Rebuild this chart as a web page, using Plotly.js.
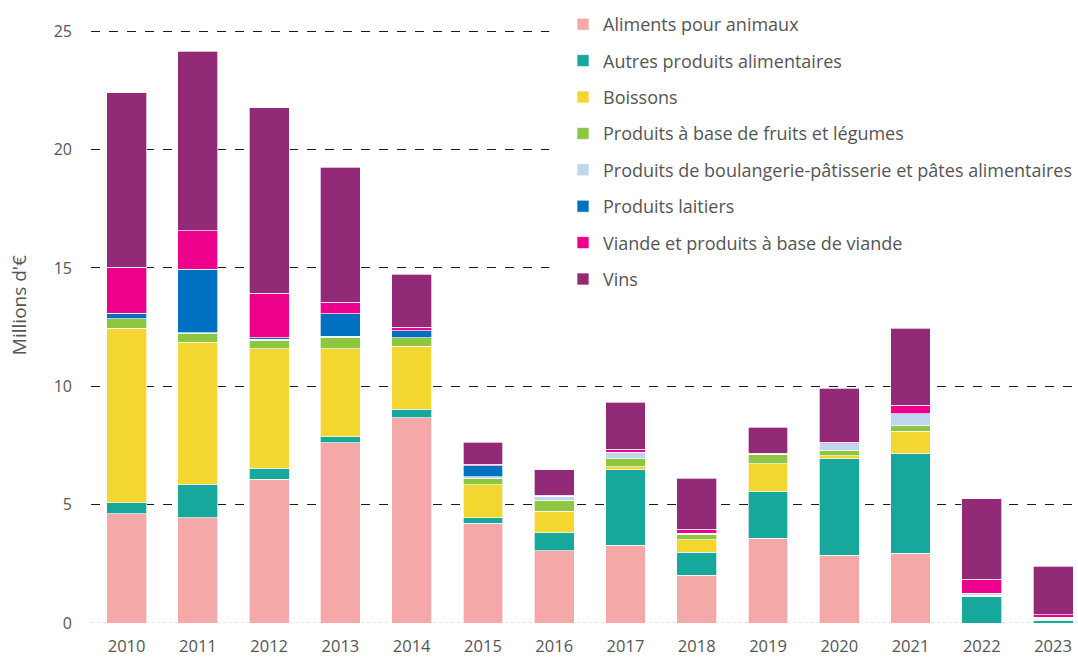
<!DOCTYPE html>
<html>
<head>
<meta charset="utf-8">
<script src="https://cdn.plot.ly/plotly-3.0.1.min.js"></script>
<style>
html,body{margin:0;padding:0;background:#fff;overflow:hidden;}
#chart{width:1078px;height:657px;}
</style>
</head>
<body>
<div id="chart"></div>
<script>
const years = ['2010','2011','2012','2013','2014','2015','2016','2017','2018','2019','2020','2021','2022','2023'];

const seriesNames = [
  'Aliments pour animaux',
  'Autres produits alimentaires',
  'Boissons',
  'Produits à base de fruits et légumes',
  'Produits de boulangerie-pâtisserie et pâtes alimentaires',
  'Produits laitiers',
  'Viande et produits à base de viande',
  'Vins'
];

const aliments     = [4.61, 4.44, 6.07, 7.62, 8.68, 4.21, 3.05, 3.29, 2.01, 3.57, 2.86, 2.94, 0.00, 0.00];
const autres       = [0.47, 1.42, 0.46, 0.25, 0.35, 0.23, 0.76, 3.18, 0.98, 1.99, 4.08, 4.23, 1.10, 0.12];
const boissons     = [7.38, 6.01, 5.05, 3.71, 2.67, 1.39, 0.92, 0.13, 0.52, 1.16, 0.13, 0.93, 0.02, 0.03];
const fruits       = [0.39, 0.35, 0.35, 0.48, 0.36, 0.29, 0.46, 0.34, 0.24, 0.39, 0.23, 0.24, 0.06, 0.05];
const boulangerie  = [0.00, 0.05, 0.05, 0.05, 0.00, 0.06, 0.16, 0.28, 0.05, 0.02, 0.27, 0.51, 0.08, 0.04];
const laitiers     = [0.24, 2.67, 0.08, 0.96, 0.28, 0.46, 0.00, 0.00, 0.00, 0.00, 0.00, 0.00, 0.00, 0.00];
const viande       = [1.93, 1.62, 1.87, 0.48, 0.16, 0.06, 0.05, 0.12, 0.17, 0.04, 0.07, 0.35, 0.58, 0.11];
const vins         = [7.39, 7.60, 7.84, 5.70, 2.23, 0.93, 1.07, 1.99, 2.15, 1.09, 2.27, 3.26, 3.41, 2.04];

const seriesValues = [aliments, autres, boissons, fruits, boulangerie, laitiers, viande, vins];
const colors = ['#F5A8A8', '#17A89D', '#F3D630', '#8DC63F', '#BDD7EE', '#0070C0', '#EC008C', '#922A78'];

const traces = seriesNames.map((name, i) => ({
  type: 'bar',
  name: name,
  x: years,
  y: seriesValues[i],
  legendgroup: 'g' + i,
  marker: {color: colors[i], line: {color: 'rgba(255,255,255,0.85)', width: 0.8}},
  hoverinfo: 'name+y'
}));

const layout = {
  width: 1078,
  height: 657,
  margin: {l: 91, r: 0, t: 30, b: 34, autoexpand: false},
  paper_bgcolor: '#ffffff',
  plot_bgcolor: '#ffffff',
  barmode: 'stack',
  bargap: 0.44,
  font: {family: 'Open Sans, sans-serif', color: '#555555', size: 16},
  xaxis: {
    type: 'category',
    range: [-0.5, 13.35],
    showgrid: false,
    zeroline: false,
    showline: false,
    ticks: '',
    tickfont: {size: 16.5, color: '#555555'},
    ticklabelstandoff: 11
  },
  yaxis: {
    range: [0, 25.05],
    tickvals: [0, 5, 10, 15, 20, 25],
    showgrid: true,
    gridcolor: '#1a1a1a',
    gridwidth: 1,
    griddash: 'dash',
    zeroline: false,
    showline: false,
    ticks: '',
    tickfont: {size: 16, color: '#555555'},
    ticklabelstandoff: 18
  },
  annotations: [
    {text: "Millions d'€", xref: 'paper', yref: 'paper', x: (19 - 91) / 987, y: (622.7 - 305) / 592.7,
     xanchor: 'center', yanchor: 'middle', textangle: -90, showarrow: false,
     font: {size: 19, color: '#555555'}}
  ],
  shapes: [
    {type: 'rect', xref: 'x', yref: 'y', x0: 5.93, x1: 14, y0: 13.6, y1: 26,
     fillcolor: '#ffffff', line: {width: 0}, layer: 'above'},
    {type: 'line', xref: 'x', yref: 'y', x0: -0.5, x1: 14, y0: 0, y1: 0,
     line: {color: '#cccccc', width: 1, dash: 'dot'}, layer: 'below'}
  ],
  legend: {
    xref: 'container', yref: 'container',
    x: 563 / 1078, y: 1 - 6 / 657,
    xanchor: 'left', yanchor: 'top',
    bgcolor: 'rgba(255,255,255,0)',
    traceorder: 'grouped',
    tracegroupgap: 10,
    font: {size: 18, color: '#555555'},
    itemwidth: 30
  },
  showlegend: true
};

Plotly.newPlot('chart', traces, layout, {displayModeBar: false, staticPlot: true});
</script>
</body>
</html>
